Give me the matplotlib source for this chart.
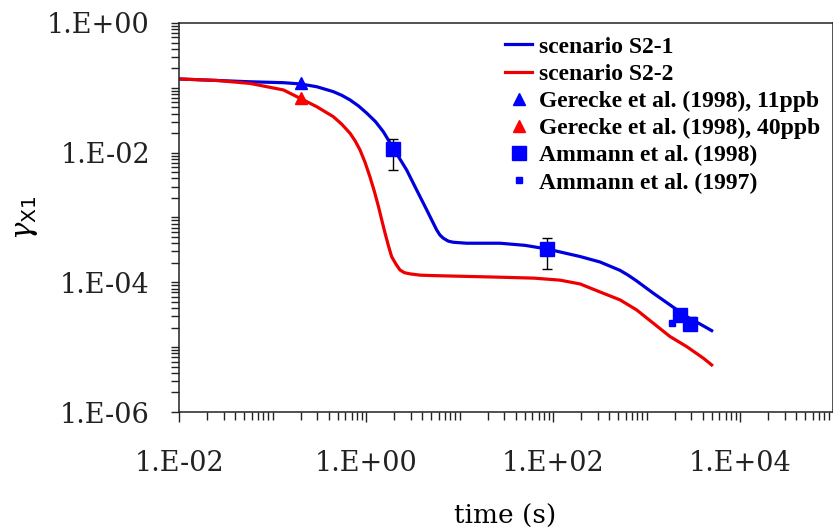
import numpy as np
import matplotlib
matplotlib.use("Agg")
import matplotlib.pyplot as plt
from matplotlib.ticker import FixedLocator, FixedFormatter, NullFormatter

plt.rcParams["font.family"] = "DejaVu Serif"
plt.rcParams["mathtext.fontset"] = "dejavuserif"

# modelled uptake coefficient vs. exposure time
t_s21 = [0.01, 0.0574, 0.131, 0.197, 0.297, 0.447, 0.550, 0.675, 0.832, 1.02,
         1.26, 1.53, 1.96, 2.72, 3.48, 4.46, 5.01, 5.70, 6.17, 6.71,
         7.59, 8.59, 11.9, 27.1, 50.1, 86.3, 195, 318, 521, 631,
         785, 1183, 1782, 2692, 4055, 4977]
g_s21 = [0.137, 0.124, 0.120, 0.115, 0.104, 0.0873, 0.0767, 0.0650, 0.0525, 0.0406,
         0.0302, 0.0211, 0.0117, 0.00541, 0.00266, 0.00131, 9.33e-4, 6.43e-4, 5.37e-4, 4.79e-4,
         4.32e-4, 4.15e-4, 4.01e-4, 4.01e-4, 3.72e-4, 3.27e-4, 2.50e-4, 2.06e-4, 1.53e-4, 1.30e-4,
         1.05e-4, 6.79e-5, 4.49e-5, 2.96e-5, 2.13e-5, 1.80e-5]

t_s22 = [0.01, 0.0251, 0.0574, 0.131, 0.197, 0.297, 0.447, 0.550, 0.675, 0.767,
         0.863, 0.977, 1.10, 1.23, 1.36, 1.48, 1.60, 1.74, 1.88, 2.09,
         2.31, 2.57, 2.96, 3.80, 5.25, 27.1, 63, 119, 195, 318, 521,
         785, 1183, 1782, 2692, 4055, 4977]
g_s22 = [0.137, 0.130, 0.117, 0.0927, 0.0690, 0.0512, 0.0359, 0.0275, 0.0199, 0.0151,
         0.0110, 0.00708, 0.00427, 0.00251, 0.00147, 8.91e-4, 5.71e-4, 3.63e-4, 2.49e-4, 1.91e-4,
         1.55e-4, 1.41e-4, 1.35e-4, 1.29e-4, 1.27e-4, 1.20e-4, 1.16e-4, 1.08e-4, 9.44e-5, 7.11e-5, 5.36e-5,
         3.75e-5, 2.34e-5, 1.46e-5, 1.02e-5, 6.76e-6, 5.32e-6]

# measurements
t_ger11 = [0.2]
g_ger11 = [0.118]
t_ger40 = [0.2]
g_ger40 = [0.070]

t_amm98 = [1.96, 86, 2280, 2920]
g_amm98 = [0.0113, 3.3e-4, 3.1e-5, 2.3e-5]
t_amm98_err = [1.96, 86]
g_amm98_err = [0.0113, 3.3e-4]
g_amm98_lo = [0.0054, 1.6e-4]
g_amm98_hi = [0.0162, 4.8e-4]

t_amm97 = [1890, 2480, 3160]
g_amm97 = [2.4e-5, 3.5e-5, 2.6e-5]

x_major = [1e-2, 1e0, 1e2, 1e4]
x_labels = ["1.E-02", "1.E+00", "1.E+02", "1.E+04"]
y_major = [1e-6, 1e-4, 1e-2, 1e0]
y_labels = ["1.E-06", "1.E-04", "1.E-02", "1.E+00"]

fig = plt.figure(figsize=(8.33, 5.31), dpi=100)
ax = fig.add_axes([0.2149, 0.2241, 0.7857, 0.7326])

ax.plot(t_s21, g_s21, color="#0000dd", lw=2.3, label="scenario S2-1",
        solid_joinstyle="round")
ax.plot(t_s22, g_s22, color="#ee0000", lw=2.3, label="scenario S2-2",
        solid_joinstyle="round")
ax.plot(t_ger11, g_ger11, "^", color="#0000ff", ms=9, ls="none",
        label="Gerecke et al. (1998), 11ppb")
ax.plot(t_ger40, g_ger40, "^", color="#ff0000", ms=9, ls="none",
        label="Gerecke et al. (1998), 40ppb")
yerr = [np.array(g_amm98_err) - np.array(g_amm98_lo),
        np.array(g_amm98_hi) - np.array(g_amm98_err)]
ax.errorbar(t_amm98_err, g_amm98_err, yerr=yerr, fmt="none", ecolor="black",
            elinewidth=1, capsize=3.5, capthick=1)
ax.plot(t_amm98, g_amm98, "s", color="#0000ff", ms=9.5, ls="none",
        label="Ammann et al. (1998)")
ax.plot(t_amm97, g_amm97, "s", color="#0000ff", ms=5, ls="none",
        label="Ammann et al. (1997)")

ax.set_xscale("log")
ax.set_yscale("log")
ax.set_xlim(1e-2, 1e5)
ax.set_ylim(1e-6, 1e0)

x_minor = [k * 10.0 ** n for n in range(-2, 5) for k in range(1, 10)
           if not (k == 1 and n % 2 == 0)]
y_minor = [k * 10.0 ** n for n in range(-6, 0) for k in range(1, 10)
           if not (k == 1 and n % 2 == 0)]
ax.xaxis.set_major_locator(FixedLocator(x_major))
ax.xaxis.set_major_formatter(FixedFormatter(x_labels))
ax.xaxis.set_minor_locator(FixedLocator(x_minor))
ax.xaxis.set_minor_formatter(NullFormatter())
ax.yaxis.set_major_locator(FixedLocator(y_major))
ax.yaxis.set_major_formatter(FixedFormatter(y_labels))
ax.yaxis.set_minor_locator(FixedLocator(y_minor))
ax.yaxis.set_minor_formatter(NullFormatter())

ax.tick_params(axis="x", which="major", direction="out", length=7.5,
               width=1, pad=20, labelsize=19.5, colors="#222222")
ax.tick_params(axis="x", which="minor", direction="out", length=5.5,
               width=1, colors="#222222")
ax.tick_params(axis="y", which="major", direction="out", length=6,
               width=1, pad=15, labelsize=19.5, colors="#222222")
ax.tick_params(axis="y", which="minor", direction="out", length=6,
               width=1, colors="#222222")
for side in ["left", "bottom", "top", "right"]:
    ax.spines[side].set_color("#222222")
    ax.spines[side].set_linewidth(1.1)

ax.set_xlabel("time (s)", fontsize=19)
ax.xaxis.set_label_coords(0.498, -0.235)
ax.set_ylabel(r"$\gamma_{\mathsf{X1}}$", fontsize=21)
ax.yaxis.set_label_coords(-0.212, 0.5)

ax.legend(loc="upper left", bbox_to_anchor=(0.498, 0.966), frameon=False,
          prop={"family": "Liberation Serif", "weight": "bold", "size": 17},
          borderaxespad=0, borderpad=0, handlelength=1.15,
          handletextpad=0.3, labelspacing=0.24)

fig.savefig("out.png", dpi=100)
